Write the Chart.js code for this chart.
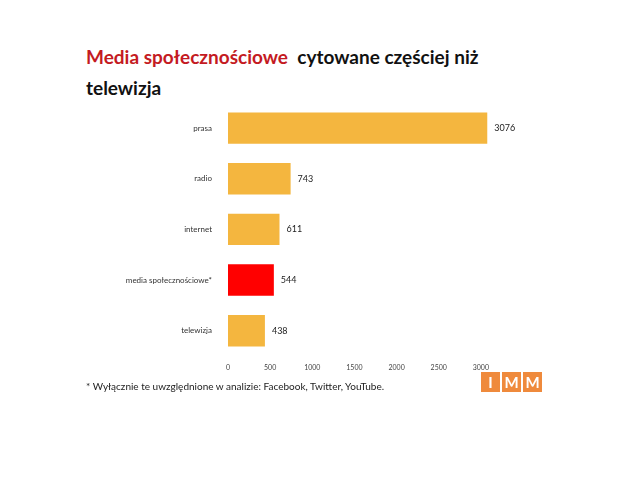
<!DOCTYPE html>
<html>
<head>
<meta charset="utf-8">
<script src="https://cdn.jsdelivr.net/npm/chart.js@4"></script>
<style>
  body { margin: 0; width: 640px; height: 480px; background: #fff; position: relative; overflow: hidden; font-family: Lato, "Open Sans", sans-serif; }
  #title { position: absolute; left: 86px; top: 41px; width: 440px; font-size: 19px; font-weight: bold; line-height: 31px; color: #111; }
  #title .red { color: #c41a22; }
  #wrap { position: absolute; left: 100px; top: 90px; width: 440px; height: 295px; }
  #note { position: absolute; left: 86px; top: 380px; font-size: 10px; color: #222; }
  #logo { position: absolute; left: 481px; top: 372px; }
  #logo span { display: inline-block; width: 19px; height: 20px; margin-right: 2px; background: #ef8a3c; color: #fff; font: bold 15px Lato, sans-serif; text-align: center; line-height: 20px; }
</style>
</head>
<body>
<div id="title"><span class="red">Media społecznościowe</span>&nbsp; cytowane częściej niż telewizja</div>
<div id="wrap"><canvas id="myChart"></canvas></div>
<div id="note">* Wyłącznie te uwzględnione w analizie: Facebook, Twitter, YouTube.</div>
<div id="logo"><span>I</span><span>M</span><span>M</span></div>
<script>
const categories = ['prasa', 'radio', 'internet', 'media społecznościowe*', 'telewizja'];
const values = [3076, 743, 611, 544, 438];
const barColors = ['#f4b63f', '#f4b63f', '#f4b63f', '#ff0000', '#f4b63f'];
const tickLabels = [0, 500, 1000, 1500, 2000, 2500, 3000];

const ctx = document.getElementById('myChart').getContext('2d');

// value labels to the right of each bar
const valueLabels = {
  id: 'valueLabels',
  afterDatasetsDraw(chart) {
    const c = chart.ctx;
    const meta = chart.getDatasetMeta(0);
    c.save();
    c.font = '9px Lato, sans-serif';
    c.fillStyle = '#222';
    c.textBaseline = 'middle';
    meta.data.forEach((bar, i) => {
      c.fillText(values[i], bar.x + 7, bar.y);
    });
    c.restore();
  }
};

new Chart(ctx, {
  type: 'bar',
  data: {
    labels: categories,
    datasets: [{
      data: values,
      backgroundColor: barColors,
      barPercentage: 0.62,
      categoryPercentage: 1
    }]
  },
  options: {
    indexAxis: 'y',
    responsive: true,
    maintainAspectRatio: false,
    animation: false,
    layout: { padding: { top: 0, right: 17, bottom: 0, left: 0 } },
    plugins: { legend: { display: false }, tooltip: { enabled: false } },
    scales: {
      x: {
        min: 0,
        max: 3500,
        grid: { display: false },
        border: { display: false },
        afterBuildTicks(axis) {
          axis.ticks = tickLabels.map(v => ({ value: v }));
        },
        ticks: {
          font: { size: 7, family: 'Lato' }, color: '#444', maxRotation: 0, padding: 0,
          callback: (v) => String(v)
        },
        afterFit(axis) { axis.height = 29; }
      },
      y: {
        grid: { display: false },
        border: { display: false },
        ticks: { font: { size: 8, family: 'Lato' }, color: '#333', padding: 8 },
        afterFit(axis) { axis.width = 128; }
      }
    }
  },
  plugins: [valueLabels]
});
</script>
</body>
</html>
